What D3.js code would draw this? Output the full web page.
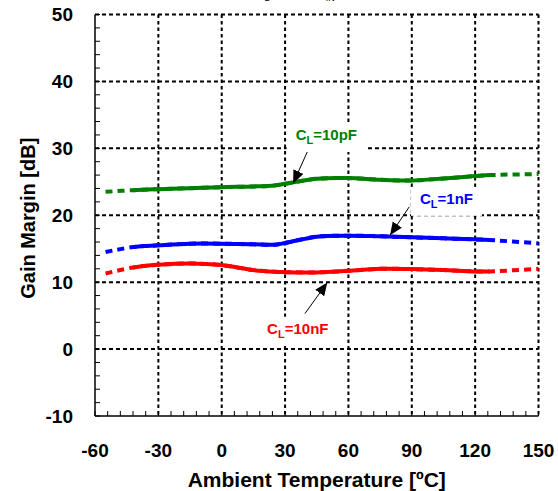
<!DOCTYPE html>
<html>
<head>
<meta charset="utf-8">
<script src="https://cdn.jsdelivr.net/npm/d3@7"></script>
<style>
  body { margin: 0; background: #fff; }
  text { font-family: "Liberation Sans", Arial, sans-serif; font-weight: bold; }
</style>
</head>
<body>
<svg id="chart"></svg>
<script>
// Data
const tempC   = [-55, -42, -30, -15, 0, 15, 25, 30, 45, 60, 75, 90, 105, 120, 127, 150];
const gm10pF  = [23.5, 23.75, 23.9, 24.05, 24.2, 24.3, 24.45, 24.7, 25.45, 25.55, 25.3, 25.2, 25.5, 25.85, 26.0, 26.15];
const gm1nF   = [14.5, 15.25, 15.5, 15.75, 15.75, 15.65, 15.6, 15.85, 16.8, 16.95, 16.85, 16.7, 16.55, 16.4, 16.3, 15.8];
const gm10nF  = [11.3, 12.2, 12.6, 12.8, 12.55, 11.8, 11.55, 11.5, 11.45, 11.7, 12.0, 11.95, 11.8, 11.6, 11.6, 12.0];
const xTicks  = [-60, -30, 0, 30, 60, 90, 120, 150];
const yTicks  = [-10, 0, 10, 20, 30, 40, 50];
const solidFrom = -42, solidTo = 127;   // measured range, dashed outside

// label / arrow anchors in data units
const labels = [
  { sub: "L", pre: "C", post: "=10pF", color: "#008000", t: 35, v: 31.25, from: [40.5, 29.45], to: [33.8, 24.75] },
  { sub: "L", pre: "C", post: "=1nF",  color: "#0000ff", t: 93.9, v: 21.7, from: [88.8, 21.25], to: [79.7, 17.0] },
  { sub: "L", pre: "C", post: "=10nF", color: "#ff0000", t: 21.5, v: 2.3,  from: [39.4, 5.3],  to: [50, 9.95] }
];

const series = [
  { values: gm10pF, color: "#008000" },
  { values: gm1nF,  color: "#0000ff" },
  { values: gm10nF, color: "#ff0000" }
];

// Set dimensions and margins
const margin = { top: 14.5, right: 19.5, bottom: 75, left: 95 };
const width = 558 - margin.left - margin.right;
const height = 491 - margin.top - margin.bottom;

const root = d3.select("#chart")
    .attr("width", 558)
    .attr("height", 491);

// partly cut-off title at the very top
const title = root.append("text")
    .attr("x", 316)
    .attr("y", -4)
    .attr("text-anchor", "middle")
    .style("font-size", "13px")
    .style("font-weight", "normal");
title.append("tspan").text("(V");
title.append("tspan").attr("dy", 5).style("font-size", "9px").text("L");
title.append("tspan").attr("dy", -5).text(" = 3.3V, V");
title.append("tspan").attr("dy", 5).style("font-size", "9px").text("IN");
title.append("tspan").attr("dy", -5).text(" = 5.0V)");

const svg = root.append("g")
    .attr("transform", `translate(${margin.left},${margin.top})`);

const x = d3.scaleLinear().domain([-60, 150]).range([0, width]);
const y = d3.scaleLinear().domain([-10, 50]).range([height, 0]);

// dotted grid (top and right borders are grid lines too)
svg.append("g")
  .selectAll("line")
  .data(yTicks.filter(d => d > -10))
  .enter().append("line")
    .attr("x1", 0).attr("x2", width)
    .attr("y1", d => y(d)).attr("y2", d => y(d))
    .attr("stroke", "#000")
    .attr("stroke-width", 2)
    .attr("stroke-dasharray", "4,3");

svg.append("g")
  .selectAll("line")
  .data(xTicks.filter(d => d > -60))
  .enter().append("line")
    .attr("x1", d => x(d)).attr("x2", d => x(d))
    .attr("y1", 0).attr("y2", height)
    .attr("stroke", "#000")
    .attr("stroke-width", 2)
    .attr("stroke-dasharray", "3.5,3");

// solid left and bottom axes
svg.append("line")
    .attr("x1", 0).attr("x2", 0).attr("y1", 0).attr("y2", height)
    .attr("stroke", "#000").attr("stroke-width", 1.5);
svg.append("line")
    .attr("x1", 0).attr("x2", width).attr("y1", height).attr("y2", height)
    .attr("stroke", "#000").attr("stroke-width", 1.5);

// inward minor ticks
svg.append("g")
  .selectAll("line")
  .data(d3.range(-10, 50.1, 2))
  .enter().append("line")
    .attr("x1", 0).attr("x2", 5)
    .attr("y1", d => y(d)).attr("y2", d => y(d))
    .attr("stroke", "#000").attr("stroke-width", 1);
svg.append("g")
  .selectAll("line")
  .data(d3.range(-60, 150.1, 6))
  .enter().append("line")
    .attr("x1", d => x(d)).attr("x2", d => x(d))
    .attr("y1", height).attr("y2", height - 5)
    .attr("stroke", "#000").attr("stroke-width", 1);

// tick labels
svg.append("g")
  .selectAll("text")
  .data(yTicks)
  .enter().append("text")
    .attr("x", -22)
    .attr("y", d => y(d))
    .attr("dy", "0.36em")
    .attr("text-anchor", "end")
    .style("font-size", "19px")
    .text(d => d);

svg.append("g")
  .selectAll("text")
  .data(xTicks)
  .enter().append("text")
    .attr("x", d => x(d))
    .attr("y", height + 41)
    .attr("text-anchor", "middle")
    .style("font-size", "19px")
    .text(d => d);

// axis titles
svg.append("text")
    .attr("x", width / 2)
    .attr("y", height + 71)
    .attr("text-anchor", "middle")
    .style("font-size", "21px")
    .text("Ambient Temperature [ºC]");

svg.append("text")
    .attr("transform", "rotate(-90)")
    .attr("x", -(y(20) + 3))
    .attr("y", -60)
    .attr("text-anchor", "middle")
    .style("font-size", "20px")
    .text("Gain Margin [dB]");

// label backgrounds go above grid, below curves
const bgLayer = svg.append("g");

// curves
root.append("defs").append("clipPath")
    .attr("id", "solidClip")
  .append("rect")
    .attr("x", x(solidFrom))
    .attr("y", -20)
    .attr("width", x(solidTo) - x(solidFrom))
    .attr("height", height + 40);

const line = d3.line()
    .x((d, i) => x(tempC[i]))
    .y(d => y(d))
    .curve(d3.curveCatmullRom.alpha(0.5));

series.forEach(s => {
  svg.append("path")
      .attr("d", line(s.values))
      .attr("fill", "none")
      .attr("stroke", s.color)
      .attr("stroke-width", 4)
      .attr("stroke-dasharray", "7,5");
  svg.append("path")
      .attr("d", line(s.values))
      .attr("fill", "none")
      .attr("stroke", s.color)
      .attr("stroke-width", 4)
      .attr("clip-path", "url(#solidClip)");
});

// arrowhead
root.select("defs").append("marker")
    .attr("id", "arrow")
    .attr("markerUnits", "userSpaceOnUse")
    .attr("markerWidth", 14).attr("markerHeight", 12)
    .attr("refX", 13).attr("refY", 5.5)
    .attr("orient", "auto")
  .append("path")
    .attr("d", "M0,0 L13,5.5 L0,11 Z")
    .attr("fill", "#000");

// labels with arrows
labels.forEach(l => {
  const t = svg.append("text")
      .attr("x", x(l.t))
      .attr("y", y(l.v))
      .attr("fill", l.color)
      .style("font-size", "15px");
  t.append("tspan").text(l.pre);
  t.append("tspan").attr("dy", 4).style("font-size", "11px").text(l.sub);
  t.append("tspan").attr("dy", -4).text(l.post);

  const bb = t.node().getBBox();
  bgLayer.append("rect")
      .attr("x", bb.x - 9)
      .attr("y", bb.y - 3)
      .attr("width", bb.width + 18)
      .attr("height", bb.height + 9)
      .attr("fill", "#fff");

  svg.append("line")
      .attr("x1", x(l.from[0])).attr("y1", y(l.from[1]))
      .attr("x2", x(l.to[0])).attr("y2", y(l.to[1]))
      .attr("stroke", "#000")
      .attr("stroke-width", 1)
      .attr("marker-end", "url(#arrow)");
});
</script>
</body>
</html>
